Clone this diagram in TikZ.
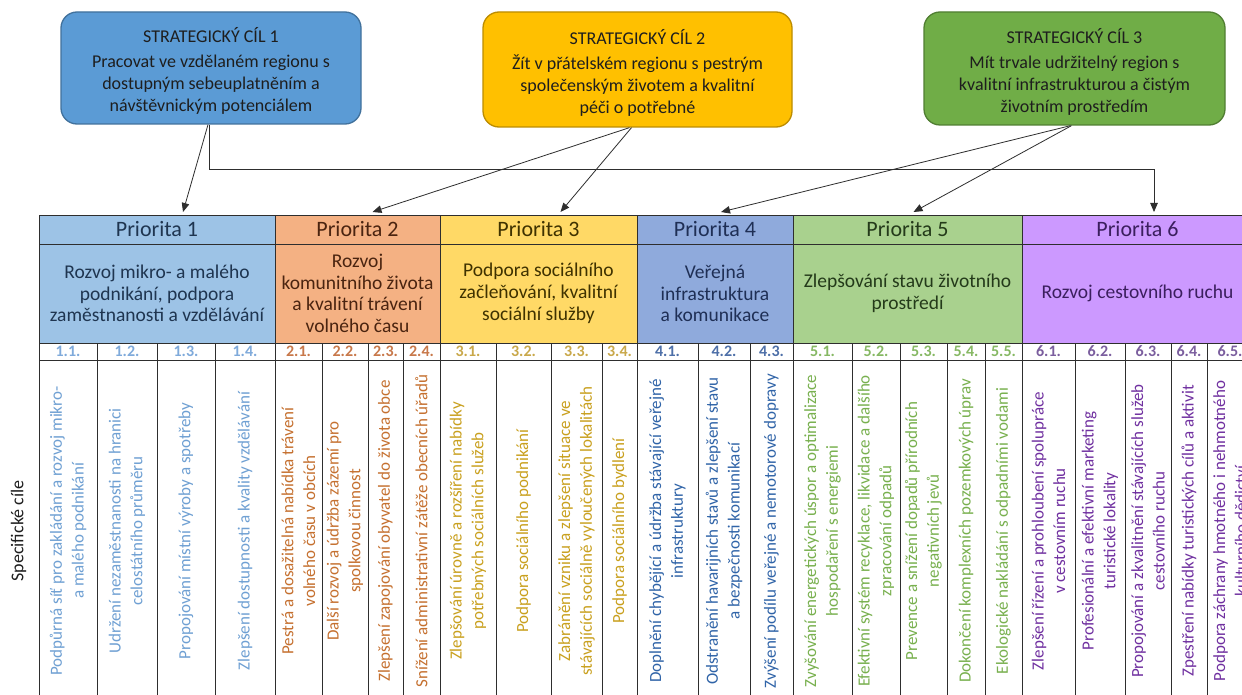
\documentclass[tikz,border=0pt]{standalone}
\usepackage{fontspec}
\setmainfont{Carlito}
\usetikzlibrary{arrows.meta}
\definecolor{gAfill}{HTML}{5B9BD5}
\definecolor{gAdraw}{HTML}{41719C}
\definecolor{gBfill}{HTML}{FFC000}
\definecolor{gBdraw}{HTML}{BC8C00}
\definecolor{gCfill}{HTML}{70AD47}
\definecolor{gCdraw}{HTML}{507E32}
\definecolor{pA}{HTML}{9DC3E6}
\definecolor{pB}{HTML}{F4B183}
\definecolor{pC}{HTML}{FFD966}
\definecolor{pD}{HTML}{8FAADC}
\definecolor{pE}{HTML}{A9D18E}
\definecolor{pF}{HTML}{CC99FF}
\definecolor{dA}{HTML}{1F3550}
\definecolor{dB}{HTML}{4A2410}
\definecolor{dC}{HTML}{3F3200}
\definecolor{dD}{HTML}{1F2F55}
\definecolor{dE}{HTML}{243A1A}
\definecolor{dF}{HTML}{3B1F5E}
\definecolor{nA}{HTML}{7FAADB}
\definecolor{nB}{HTML}{C8784A}
\definecolor{nC}{HTML}{C9A84A}
\definecolor{nD}{HTML}{4D6FA8}
\definecolor{nE}{HTML}{86B863}
\definecolor{nF}{HTML}{7B5E9E}
\definecolor{tA}{HTML}{6FA0D3}
\definecolor{tB}{HTML}{C5702F}
\definecolor{tC}{HTML}{C9A01E}
\definecolor{tD}{HTML}{3064A8}
\definecolor{tE}{HTML}{78B04E}
\definecolor{tF}{HTML}{7030A0}
\definecolor{gridc}{HTML}{2E2E2E}
\definecolor{inkc}{HTML}{1E1E1E}
\tikzset{
 goal/.style={draw, line width=1.3pt, rounded corners=16pt, align=center, text=inkc, font=\fontsize{18}{22}\selectfont, inner sep=0pt},
 cell/.style={draw=gridc, line width=0.9pt, inner sep=0pt, outer sep=0pt},
 prio/.style={cell, font=\fontsize{22}{26}\selectfont, minimum height=29pt},
 desc/.style={cell, font=\fontsize{19.5}{21.7}\selectfont, align=center, minimum height=99pt},
 num/.style={cell, fill=white, font=\fontsize{16}{18}\selectfont\bfseries, minimum height=17pt},
 txtcell/.style={cell, fill=white, minimum height=342pt},
 rot/.style={rotate=90, align=center, inner sep=0pt, font=\fontsize{17}{21.7}\selectfont},
 conn/.style={draw=gridc, line width=0.8pt, -{Triangle[length=9pt,width=7.5pt]}},
}
\newcommand{\toplift}{\rule{0pt}{21pt}}
\begin{document}
\begin{tikzpicture}[x=1pt,y=-1pt]
\useasboundingbox (0,0) rectangle (1242,695);
\clip (0,0) rectangle (1242,695);
\fill[white] (0,0) rectangle (1242,695);

% strategic goals
\node[goal, fill=gAfill, draw=gAdraw, minimum width=300pt, minimum height=112pt] (g1) at (211,68)
 {\toplift STRATEGICKÝ CÍL 1\\[3pt]Pracovat ve vzdělaném regionu s\\dostupným sebeuplatněním a\\návštěvnickým potenciálem};
\node[goal, fill=gBfill, draw=gBdraw, minimum width=309pt, minimum height=115pt] (g2) at (637.5,69.5)
 {\toplift STRATEGICKÝ CÍL 2\\[3pt]Žít v přátelském regionu s pestrým\\společenským životem a kvalitní\\péči o potřebné};
\node[goal, fill=gCfill, draw=gCdraw, minimum width=301pt, minimum height=113pt] (g3) at (1074.5,68.5)
 {\toplift STRATEGICKÝ CÍL 3\\[3pt]Mít trvale udržitelný region s\\kvalitní infrastrukturou a čistým\\životním prostředím};

% priorities
\foreach \k/\xa/\xb/\fc/\dc/\ttl/\dsc in {
 1/39/275/pA/dA/Priorita 1/{Rozvoj mikro- a malého\\podnikání, podpora\\zaměstnanosti a vzdělávání},
 2/275/440/pB/dB/Priorita 2/{Rozvoj\\komunitního života\\a kvalitní trávení\\volného času},
 3/440/637/pC/dC/Priorita 3/{Podpora sociálního\\začleňování, kvalitní\\sociální služby},
 4/637/793/pD/dD/Priorita 4/{Veřejná\\infrastruktura\\a komunikace},
 5/793/1022/pE/dE/Priorita 5/{Zlepšování stavu životního\\prostředí},
 6/1022/1253/pF/dF/Priorita 6/{Rozvoj cestovního ruchu}}
{
 \node[prio, fill=\fc, text=\dc, minimum width={(\xb-\xa)*1pt}] (p\k) at ({(\xa+\xb)/2},229.5) {\ttl};
 \node[desc, fill=\fc, text=\dc, minimum width={(\xb-\xa)*1pt}] (d\k) at ({(\xa+\xb)/2},293.5) {\dsc};
}

% specific goals
\foreach \lab/\xa/\xb/\nc/\tc/\txt [count=\i] in {
 1.1./39/97/nA/tA/{Podpůrná síť pro zakládání a rozvoj mikro-\\a malého podnikání},
 1.2./97/157/nA/tA/{Udržení nezaměstnanosti na hranici\\celostátního průměru},
 1.3./157/215/nA/tA/{Propojování místní výroby a spotřeby},
 1.4./215/275/nA/tA/{Zlepšení dostupnosti a kvality vzdělávání},
 2.1./275/322/nB/tB/{Pestrá a dosažitelná nabídka trávení\\volného času v obcích},
 2.2./322/368/nB/tB/{Další rozvoj a údržba zázemí pro\\spolkovou činnost},
 2.3./368/403/nB/tB/{Zlepšení zapojování obyvatel do života obce},
 2.4./403/440/nB/tB/{Snížení administrativní zátěže obecních úřadů},
 3.1./440/496/nC/tC/{Zlepšování úrovně a rozšíření nabídky\\potřebných sociálních služeb},
 3.2./496/551/nC/tC/{Podpora sociálního podnikání},
 3.3./551/602/nC/tC/{Zabránění vzniku a zlepšení situace ve\\stávajících sociálně vyloučených lokalitách},
 3.4./602/637/nC/tC/{Podpora sociálního bydlení},
 4.1./637/698/nD/tD/{Doplnění chybějící a údržba stávající veřejné\\infrastruktury},
 4.2./698/750/nD/tD/{Odstranění havarijních stavů a zlepšení stavu\\a bezpečnosti komunikací},
 4.3./750/793/nD/tD/{Zvýšení podílu veřejné a nemotorové dopravy},
 5.1./793/852/nE/tE/{Zvyšování energetických úspor a optimalizace\\hospodaření s energiemi},
 5.2./852/900/nE/tE/{Efektivní systém recyklace, likvidace a dalšího\\zpracování odpadů},
 5.3./900/947/nE/tE/{Prevence a snížení dopadů přírodních\\negativních jevů},
 5.4./947/985/nE/tE/{Dokončení komplexních pozemkových úprav},
 5.5./985/1022/nE/tE/{Ekologické nakládání s odpadními vodami},
 6.1./1022/1075/nF/tF/{Zlepšení řízení a prohloubení spolupráce\\v cestovním ruchu},
 6.2./1075/1125/nF/tF/{Profesionální a efektivní marketing\\turistické lokality},
 6.3./1125/1171/nF/tF/{Propojování a zkvalitnění stávajících služeb\\cestovního ruchu},
 6.4./1171/1207/nF/tF/{Zpestření nabídky turistických cílů a aktivit},
 6.5./1207/1253/nF/tF/{Podpora záchrany hmotného i nehmotného\\kulturního dědictví}}
{
 \node[num, text=\nc, minimum width={(\xb-\xa)*1pt}] (n\i) at ({(\xa+\xb)/2},351.5) {\lab};
 \node[txtcell, minimum width={(\xb-\xa)*1pt}] (c\i) at ({(\xa+\xb)/2},531) {};
 \node[rot, text=\tc] (t\i) at (c\i.center) {\txt};
}

\node[rot, font=\fontsize{18}{22}\selectfont, text=inkc] (sc) at (18.5,531) {Specifické cíle};

% connectors
\draw[conn] ([xshift=-3pt]g1.south) -- ([xshift=26pt,yshift=3pt]p1.north);
\draw[conn] ([xshift=-2pt]g1.south) -- ++(0,45) -| ([xshift=16.5pt,yshift=3pt]p6.north);
\draw[conn] ([xshift=-8pt]g2.south) -- ([xshift=15pt,yshift=3pt]p2.north);
\draw[conn] ([xshift=-6pt]g2.south) -- ([xshift=22pt,yshift=3pt]p3.north);
\draw[conn] ([xshift=-4pt]g3.south) -- ([xshift=6pt,yshift=3pt]p4.north);
\draw[conn] ([xshift=-3pt]g3.south) -- ([xshift=6pt,yshift=3pt]p5.north);
\end{tikzpicture}
\end{document}
